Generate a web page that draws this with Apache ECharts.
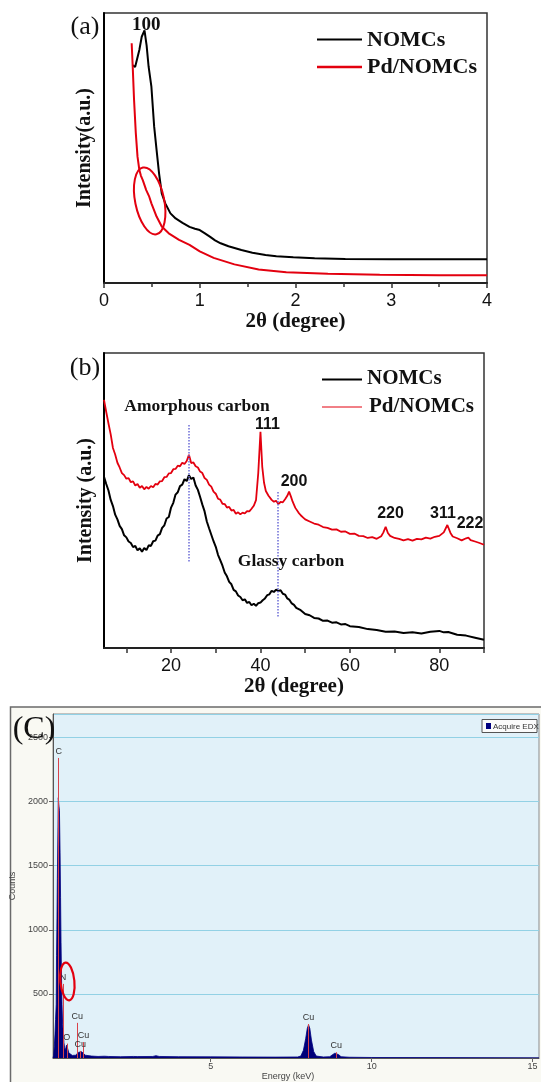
<html>
<head>
<meta charset="UTF-8">
<title>NOMCs XRD / EDX</title>
<script src="https://cdn.jsdelivr.net/npm/echarts@6/dist/echarts.min.js"></script>
<style>
  body { margin: 0; background: #fff; }
  #main { width: 541px; height: 1082px; }
</style>
</head>
<body>
<div id="main"></div>
<script>
// (a) small angle XRD, [2theta, intensity a.u.]
var aNomc = [[0.296,80.7],[0.325,80.0],[0.369,86.3],[0.394,91.2],[0.423,93.6],[0.445,88],[0.466,80.1],[0.495,72.7],
  [0.524,57.9],[0.549,49.3],[0.575,40.6],[0.603,33.2],[0.64,29.5],[0.694,25.8],[0.748,23.9],[0.82,22.3],[0.893,20.8],
  [0.95,20.1],[1.0,19.6],[1.05,18.5],[1.109,17.1],[1.16,15.8],[1.218,14.7],[1.3,13.6],[1.435,12.2],[1.55,11.2],
  [1.687,10.4],[1.8,9.9],[1.977,9.5],[2.2,9.2],[2.52,8.9],[3.0,8.8],[3.5,8.8],[4.0,8.8]];
var aPdNomc = [[0.289,88.8],[0.30,80.1],[0.314,67.8],[0.332,55.6],[0.35,46.8],[0.369,41.9],[0.385,39.8],[0.405,38.1],
  [0.441,34.4],[0.47,32.2],[0.495,29.5],[0.549,24.6],[0.603,20.9],[0.676,18.4],[0.784,16.0],[0.893,14.1],[1.0,11.7],
  [1.145,9.3],[1.362,6.9],[1.615,5.0],[1.904,4.0],[2.338,3.4],[2.88,3.1],[3.5,2.9],[4.0,2.9]];

// (b) wide angle XRD
var bNomc = [[5,58],[5.5,55.6],[6,53.4],[6.5,50.2],[7,48.1],[7.5,45.2],[8,43.6],[8.5,41.4],[9,40.3],[9.5,38.2],[10,37.5],
  [10.5,36.1],[11,35.6],[11.5,34.2],[12,34.6],[12.5,33.1],[13,33.8],[13.5,32.6],[14,33.9],[14.5,33.2],[15,34.8],[15.5,34.6],
  [16,36.2],[16.5,36.4],[17,38.1],[17.5,38.6],[18,40.7],[18.5,41.6],[19,43.9],[19.5,44.4],[20,47.6],[20.5,49.2],[21,52.0],
  [21.5,52.8],[22,54.9],[22.5,55.4],[23,57.2],[23.5,56.6],[24,58.6],[24.5,57.3],[25,57.8],[25.5,55.1],[26,53.6],[26.5,51.2],
  [27,48.6],[27.5,46.3],[28,42.9],[28.5,40.6],[29,38.4],[29.5,36.2],[30,34.3],[30.5,31.6],[31,29.8],[31.5,27.9],[32,25.6],
  [32.5,24.3],[33,22.4],[33.5,21.6],[34,19.7],[34.5,19.2],[35,17.8],[35.5,17.3],[36,16.2],[36.5,16.5],[37,15.3],[37.5,15.6],
  [38,14.5],[38.5,15.0],[39,14.3],[39.5,15.2],[40,15.4],[40.5,16.2],[41,16.8],[41.5,17.9],[42,18.2],[42.5,19.4],[43,19.0],
  [43.5,19.8],[44,19.3],[44.5,19.6],[45,18.4],[45.5,18.1],[46,16.8],[46.5,16.3],[47,15.1],[47.5,14.6],[48,13.6],[49,12.8],
  [50,11.5],[51,11.1],[52,10.2],[53,10.0],[54,9.2],[55,9.3],[56,8.6],[57,8.7],[58,8.0],[59,8.1],[60,7.4],[62,7.1],[64,6.4],
  [66,6.1],[68,5.5],[70,5.6],[72,5.1],[74,5.3],[76,4.9],[78,5.5],[80,5.8],[81,5.3],[82,5.4],[84,4.5],[86,4.2],[88,3.5],[90,2.8]];
var bPdNomc = [[5,84.1],[5.5,80],[6,76.1],[6.5,72.4],[7,67.8],[7.5,65.6],[8,62.8],[8.5,61.2],[9,59.3],[9.5,58.6],[10,57.4],
  [10.5,57.6],[11,56.2],[11.5,56.5],[12,55.1],[12.5,55.6],[13,54.3],[13.5,54.9],[14,53.8],[14.5,54.6],[15,54.0],[15.5,54.9],
  [16,54.5],[16.5,55.6],[17,55.4],[17.5,56.5],[18,56.6],[18.5,57.9],[19,58.0],[19.5,59.2],[20,59.3],[20.5,60.6],[21,60.7],
  [21.5,61.8],[22,61.6],[22.5,62.8],[23,62.4],[23.5,63.4],[24,65.5],[24.5,62.7],[25,62.9],[25.5,61.6],[26,61.2],[26.5,59.8],
  [27,59.3],[27.5,57.6],[28,57.0],[28.5,55.4],[29,54.7],[29.5,53.0],[30,52.3],[30.5,50.6],[31,50.3],[31.5,48.9],[32,48.8],
  [32.5,47.6],[33,47.8],[33.5,46.6],[34,46.8],[34.5,45.5],[35,46.0],[35.5,45.3],[36,45.9],[36.5,45.6],[37,46.4],[37.5,46.3],
  [38,47.2],[38.5,48.2],[39,50.1],[39.5,59.2],[40,73.3],[40.4,61.4],[40.8,56.0],[41.2,53.2],[41.8,51.6],[42.5,50.2],[43,49.6],
  [43.5,49.9],[44,48.8],[44.5,49.5],[45,49.4],[45.5,50.4],[46,51.6],[46.4,53.0],[46.8,51.4],[47.2,49.6],[47.8,47.5],[48.5,45.9],
  [49,45.0],[49.5,44.3],[50,43.6],[51,42.9],[52,42.2],[53,41.8],[54,41.0],[55,40.7],[56,40.1],[57,40.2],[58,39.4],[59,39.5],
  [60,38.7],[61,38.8],[62,38.0],[63,37.9],[64,37.3],[65,37.6],[66,37.0],[67,37.9],[67.5,39.2],[68,41.1],[68.5,39.0],[69,38.0],
  [70,37.3],[71,37.0],[72,36.5],[73,36.9],[74,36.4],[75,37.0],[76,36.8],[77,37.4],[78,37.1],[79,37.7],[80,38.0],[81,39.2],
  [81.8,41.7],[82.5,39.0],[83,37.8],[84,37.2],[85,36.5],[86,37.2],[86.5,37.4],[87,36.6],[88,36.1],[89,35.6],[90,35.0]];
// guide lines in (b): [2theta, from, to]
var bGuides = [[24, 29.3, 76.1], [43.9, 10.7, 53]];
var bTicks = [10, 20, 30, 40, 50, 60, 70, 80, 90];
var bTickLabels = [20, 40, 60, 80];

// (c) EDX spectrum, [keV, counts]
var edxSpectrum = [[0.10,0],[0.12,20],[0.14,90],[0.16,180],[0.18,300],[0.20,420],[0.21,800],[0.22,1000],[0.235,1400],
  [0.25,1700],[0.265,2030],[0.28,1980],[0.30,1930],[0.32,1600],[0.335,1250],[0.35,900],[0.365,620],[0.38,420],[0.40,260],
  [0.42,200],[0.44,120],[0.46,80],[0.48,60],[0.50,80],[0.52,100],[0.54,105],[0.56,70],[0.59,40],[0.62,25],[0.70,20],
  [0.80,22],[0.86,35],[0.90,45],[0.95,55],[1.00,48],[1.05,35],[1.10,22],[1.3,15],[1.5,12],[1.7,14],[1.76,22],[1.82,12],
  [2.2,10],[2.6,12],[2.66,18],[2.72,11],[3.2,12],[3.3,18],[3.4,12],[4,10],[5,9],[6,8],[7,7],[7.7,8],[7.8,15],[7.88,60],
  [7.95,150],[8.0,230],[8.04,259],[8.08,230],[8.13,140],[8.2,50],[8.28,15],[8.5,8],[8.7,10],[8.78,25],[8.86,38],[8.92,39],
  [8.98,25],[9.05,10],[9.3,6],[10,4],[12,3],[15.2,2]];
// element lines: [label, keV, height]
var edxLines = [['C',0.277,2340],['N',0.41,578],['O',0.53,112],['Cu',0.85,274],['Cu',0.95,55],['Cu',1.05,124],
  ['Cu',8.04,265],['Cu',8.9,45]];
var edxTicks = [5, 10, 15];

var serif = '"Liberation Serif", "DejaVu Serif", serif';
var sans = '"Liberation Sans", Arial, sans-serif';
var RED = '#e3000f';

var chart = echarts.init(document.getElementById('main'));

var xrdNameStyle = { fontFamily: serif, fontWeight: 'bold', fontSize: 21, color: '#111' };
var xrdYName = { fontFamily: serif, fontWeight: 'bold', fontSize: 20, color: '#111' };
var tickLbl = { fontFamily: sans, fontSize: 18, color: '#111', margin: 9 };

var option = {
  animation: false,
  backgroundColor: '#fff',
  grid: [
    { left: 104, top: 13, width: 383, height: 270, show: true, borderColor: '#333', borderWidth: 1.5 },
    { left: 104, top: 353, width: 380, height: 295, show: true, borderColor: '#333', borderWidth: 1.5 },
    { left: 53, top: 714, width: 486, height: 345, show: true, backgroundColor: '#e1f1f9',
      borderColor: '#8a8a8a', borderWidth: 1 }
  ],
  xAxis: [
    { gridIndex: 0, type: 'value', min: 0, max: 4, interval: 1,
      axisLine: { lineStyle: { color: '#222', width: 2 } },
      axisTick: { length: 5, lineStyle: { color: '#333', width: 1.5 } },
      minorTick: { show: true, splitNumber: 2, length: 4, lineStyle: { color: '#333', width: 1.5 } },
      axisLabel: tickLbl, splitLine: { show: false },
      name: '2θ (degree)', nameLocation: 'middle', nameGap: 26, nameTextStyle: xrdNameStyle },
    { gridIndex: 1, type: 'value', min: 5, max: 90,
      axisLine: { lineStyle: { color: '#222', width: 2 } },
      axisTick: { customValues: bTicks, length: 5, lineStyle: { color: '#333', width: 1.5 } },
      axisLabel: Object.assign({ customValues: bTickLabels }, tickLbl), splitLine: { show: false },
      name: '2θ (degree)', nameLocation: 'middle', nameGap: 28, nameTextStyle: xrdNameStyle },
    { gridIndex: 2, type: 'value', min: 0.1, max: 15.2,
      axisLine: { lineStyle: { color: '#555', width: 1 } },
      axisTick: { customValues: edxTicks, length: 4, lineStyle: { color: '#666' } },
      axisLabel: { customValues: edxTicks, fontFamily: sans, fontSize: 9, color: '#444', margin: 4 },
      splitLine: { show: false },
      name: 'Energy (keV)', nameLocation: 'middle', nameGap: 14,
      nameTextStyle: { fontFamily: sans, fontSize: 9, color: '#444', padding: [0, 16, 0, 0] } }
  ],
  yAxis: [
    { gridIndex: 0, type: 'value', min: 0, max: 100,
      axisLine: { show: true, lineStyle: { color: '#000', width: 2 } },
      axisTick: { show: false }, axisLabel: { show: false }, splitLine: { show: false },
      name: 'Intensity(a.u.)', nameLocation: 'middle', nameGap: 9, nameTextStyle: xrdYName },
    { gridIndex: 1, type: 'value', min: 0, max: 100,
      axisLine: { show: true, lineStyle: { color: '#000', width: 2 } },
      axisTick: { show: false }, axisLabel: { show: false }, splitLine: { show: false },
      name: 'Intensity (a.u.)', nameLocation: 'middle', nameGap: 8, nameTextStyle: xrdYName },
    { gridIndex: 2, type: 'value', min: 0, max: 2683, interval: 500,
      axisLine: { show: true, lineStyle: { color: '#555', width: 1 } },
      axisTick: { show: true, length: 4, lineStyle: { color: '#666' } },
      axisLabel: { fontFamily: sans, fontSize: 9, color: '#444', margin: 5, showMinLabel: false, showMaxLabel: false,
        formatter: function (v) { return String(v); } },
      splitLine: { show: true, lineStyle: { color: '#92d1e5', width: 1 } },
      name: 'Counts', nameLocation: 'middle', nameGap: 22,
      nameTextStyle: { fontFamily: sans, fontSize: 9, color: '#444' } }
  ],
  series: [
    { name: 'NOMCs', type: 'line', xAxisIndex: 0, yAxisIndex: 0, data: aNomc, symbol: 'none',
      lineStyle: { color: '#000', width: 2 }, color: '#000' },
    { name: 'Pd/NOMCs', type: 'line', xAxisIndex: 0, yAxisIndex: 0, data: aPdNomc, symbol: 'none',
      lineStyle: { color: RED, width: 2 }, color: RED },
    { name: 'NOMCs', type: 'line', xAxisIndex: 1, yAxisIndex: 1, data: bNomc, symbol: 'none',
      lineStyle: { color: '#000', width: 2 }, color: '#000' },
    { name: 'Pd/NOMCs', type: 'line', xAxisIndex: 1, yAxisIndex: 1, data: bPdNomc, symbol: 'none',
      lineStyle: { color: RED, width: 1.8 }, color: RED,
      markLine: {
        silent: true, symbol: ['none', 'none'], label: { show: false },
        lineStyle: { color: '#6c6cd6', type: 'dotted', width: 1.5 },
        data: bGuides.map(function (g) { return [{ coord: [g[0], g[1]] }, { coord: [g[0], g[2]] }]; })
      } },
    { name: 'Acquire EDX', type: 'line', xAxisIndex: 2, yAxisIndex: 2, data: edxSpectrum, symbol: 'none',
      lineStyle: { color: '#000080', width: 0.8 }, areaStyle: { color: '#00007a', opacity: 1 }, color: '#000080',
      markLine: {
        silent: true, symbol: ['none', 'none'],
        lineStyle: { color: '#d9424a', type: 'solid', width: 1 },
        label: { show: true, position: 'end', formatter: '{b}', distance: 2,
          fontFamily: sans, fontSize: 9, color: '#333' },
        data: edxLines.map(function (l) { return [{ name: l[0], coord: [l[1], 0] }, { coord: [l[1], l[2]] }]; })
      } }
  ]
};
chart.setOption(option);

function txt(id, s, x, y, font, align, fill) {
  return { type: 'text', id: id, x: x, y: y, z: 50,
    style: { text: s, font: font, fill: fill || '#111', align: align || 'center', verticalAlign: 'middle' } };
}
function hline(id, x1, x2, y, color, w) {
  return { type: 'line', id: id, z: 50, shape: { x1: x1, y1: y, x2: x2, y2: y }, style: { stroke: color, lineWidth: w } };
}

var ca = chart.convertToPixel({ gridIndex: 0 }, [0.477, 30.4]);
var cc = chart.convertToPixel({ gridIndex: 2 }, [0.547, 597]);
var peakA = chart.convertToPixel({ gridIndex: 0 }, [0.44, 95.5]);

chart.setOption({
  graphic: [
    // EDX panel frame
    { type: 'rect', id: 'frameC', z: -10, shape: { x: 10.5, y: 707, width: 545, height: 390 },
      style: { fill: '#f9f9f3', stroke: '#6a6a6a', lineWidth: 1.5 } },
    // panel (a)
    txt('la', '(a)', 85, 27, '26px ' + serif),
    txt('p100', '100', peakA[0], peakA[1], 'bold 19px ' + serif),
    hline('lga1', 317, 362, 39.5, '#000', 2),
    hline('lga2', 317, 362, 67, RED, 2.5),
    txt('lgat1', 'NOMCs', 367, 40, 'bold 22px ' + serif, 'left'),
    txt('lgat2', 'Pd/NOMCs', 367, 67, 'bold 22px ' + serif, 'left'),
    { type: 'ellipse', id: 'ella', z: 50, x: ca[0], y: ca[1], rotation: 0.2,
      shape: { cx: 0, cy: 0, rx: 14.5, ry: 34 }, style: { fill: 'none', stroke: RED, lineWidth: 2 } },
    // panel (b)
    txt('lb', '(b)', 85, 368, '26px ' + serif),
    hline('lgb1', 322, 362, 379.5, '#000', 2),
    hline('lgb2', 322, 362, 407, RED, 1),
    txt('lgbt1', 'NOMCs', 367, 379, 'bold 21px ' + serif, 'left'),
    txt('lgbt2', 'Pd/NOMCs', 369, 407, 'bold 21px ' + serif, 'left'),
    txt('amo', 'Amorphous carbon', 197, 406, 'bold 17.5px ' + serif),
    txt('gla', 'Glassy carbon', 291, 561, 'bold 17.5px ' + serif),
    txt('h111', '111', 267.5, 425, 'bold 16px ' + sans),
    txt('h200', '200', 294, 482, 'bold 16px ' + sans),
    txt('h220', '220', 390.5, 514, 'bold 16px ' + sans),
    txt('h311', '311', 443, 514, 'bold 16px ' + sans),
    txt('h222', '222', 470, 524, 'bold 16px ' + sans),
    // panel (c)
    txt('lc', '(C)', 34, 730, '32px ' + serif),
    { type: 'rect', id: 'lgc', z: 50, shape: { x: 482, y: 719.5, width: 55, height: 13 },
      style: { fill: '#fbfbfb', stroke: '#555', lineWidth: 1 } },
    { type: 'rect', id: 'lgcm', z: 51, shape: { x: 486, y: 723, width: 5, height: 6 }, style: { fill: '#000080' } },
    txt('lgct', 'Acquire EDX', 493, 726.5, '8px ' + sans, 'left', '#333'),
    { type: 'ellipse', id: 'ellc', z: 50, x: cc[0], y: cc[1], rotation: 0.1,
      shape: { cx: 0, cy: 0, rx: 7, ry: 19 }, style: { fill: 'none', stroke: RED, lineWidth: 2.2 } }
  ]
});
</script>
</body>
</html>
